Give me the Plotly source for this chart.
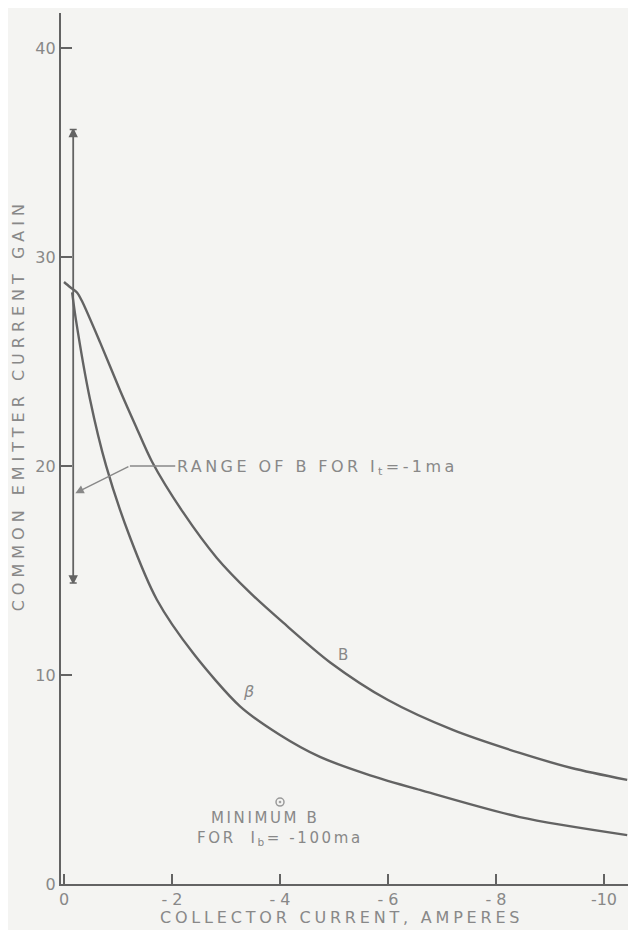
import plotly.graph_objects as go

# collector current (A) vs common emitter current gain
b_current = [0, -0.11, -0.24, -0.33, -0.67, -1.04, -1.33, -1.63, -2.2, -2.83, -3.44,
             -4.06, -4.93, -6.0, -7.2, -8.44, -9.4, -10.43]
b_gain = [28.8, 28.56, 28.3, 27.9, 25.9, 23.6, 21.9, 20.2, 17.8, 15.6, 13.95,
          12.5, 10.6, 8.8, 7.37, 6.27, 5.55, 4.98]

beta_current = [-0.15, -0.22, -0.48, -0.78, -1.22, -1.72, -2.39, -3.26, -4.0,
                -4.74, -5.67, -6.59, -8.44, -10.43]
beta_gain = [28.3, 27.0, 23.2, 20.0, 16.6, 13.6, 11.05, 8.5, 7.13,
             6.08, 5.2, 4.5, 3.2, 2.34]

# range of B for I_t = -1 ma
range_current = [-0.17, -0.17]
range_gain = [36.1, 14.4]

# minimum B for I_b = -100 ma
min_current = [-4.0]
min_gain = [3.92]

x_ticks = [0, -2, -4, -6, -8, -10]
x_tick_text = ["0", "- 2", "- 4", "- 6", "- 8", "-10"]
y_ticks = [0, 10, 20, 30, 40]
y_tick_text = ["0", "10", "20", "30", "40"]

# leader line from the range label to the range bar
leader_x = [-2.06, -1.22]
leader_y = [20.0, 20.0]
leader_tip = (-0.21, 18.7)

INK = "#636363"
TEXT = "#888888"
BG = "#f4f4f2"
FONT = "DejaVu Sans"


def spaced(text, px):
    return f'<span style="letter-spacing:{px}px">{text}</span>'


fig = go.Figure()
fig.add_trace(go.Scatter(x=b_current, y=b_gain, mode="lines",
                         line={"color": INK, "width": 2.4, "shape": "spline", "smoothing": 0.8}))
fig.add_trace(go.Scatter(x=beta_current, y=beta_gain, mode="lines",
                         line={"color": INK, "width": 2.4, "shape": "spline", "smoothing": 0.8}))
fig.add_trace(go.Scatter(x=range_current, y=range_gain, mode="lines+markers",
                         line={"color": INK, "width": 1.8},
                         marker={"symbol": ["arrow-bar-up", "arrow-bar-down"], "size": 7,
                                 "color": INK, "line": {"color": INK, "width": 1.5}}))
fig.add_trace(go.Scatter(x=leader_x, y=leader_y, mode="lines",
                         line={"color": TEXT, "width": 1.6}))
fig.add_trace(go.Scatter(x=min_current, y=min_gain, mode="markers",
                         marker={"symbol": "circle-dot", "size": 8, "color": "rgba(0,0,0,0)",
                                 "line": {"color": "#9a9a9a", "width": 1.5}}))

fig.add_annotation(x=leader_tip[0], y=leader_tip[1], ax=leader_x[1], ay=leader_y[1],
                   axref="x", ayref="y", text="", showarrow=True, arrowhead=2,
                   arrowsize=1.2, arrowwidth=1.4, arrowcolor=TEXT)

annotations = [
    (leader_x[0], 19.95, "left", spaced("RANGE OF B FOR I<sub>t</sub>=-1ma", 3.4), 16),
    (-5.17, 10.95, "center", "B", 15),
    (-3.41, 9.19, "center", "<i>β</i>", 16),
    (-3.72, 3.17, "center", spaced("MINIMUM B", 2.6), 15),
    (-4.0, 2.2, "center", spaced("FOR  I<sub>b</sub>= -100ma", 2.6), 15),
]
for x, y, anchor, text, size in annotations:
    fig.add_annotation(x=x, y=y, text=text, showarrow=False, xanchor=anchor,
                       yanchor="middle", font={"family": FONT, "size": size, "color": TEXT})

# axis titles placed by hand so the plot area keeps its scanned position
fig.add_annotation(x=-5.13, y=0, yref="paper", yshift=-33, yanchor="middle",
                   text=spaced("COLLECTOR CURRENT, AMPERES", 3.8), showarrow=False,
                   font={"family": FONT, "size": 16, "color": TEXT})
fig.add_annotation(x=0, xref="paper", xshift=-43, xanchor="center", y=22.9,
                   text=spaced("COMMON EMITTER CURRENT GAIN", 5), textangle=-90,
                   showarrow=False, font={"family": FONT, "size": 16, "color": TEXT})

# the page body adds an 8px margin, so the figure is 8px smaller each way
fig.update_layout(
    width=628,
    height=922,
    margin={"l": 53, "r": 0, "t": 5, "b": 46},
    paper_bgcolor=BG,
    plot_bgcolor=BG,
    showlegend=False,
    font={"family": FONT, "color": TEXT},
)
fig.update_xaxes(
    range=[0.056, -10.593], automargin=False,
    tickvals=x_ticks, ticktext=x_tick_text,
    ticks="inside", ticklen=10, tickwidth=1.6, tickcolor=INK,
    showline=True, linecolor=INK, linewidth=2.4,
    showgrid=False, zeroline=False,
    tickfont={"family": FONT, "size": 16, "color": TEXT},
)
fig.update_yaxes(
    range=[0, 41.67], automargin=False,
    tickvals=y_ticks, ticktext=y_tick_text,
    ticks="inside", ticklen=11, tickwidth=1.6, tickcolor=INK,
    showline=True, linecolor=INK, linewidth=2.4,
    showgrid=False, zeroline=False,
    tickfont={"family": FONT, "size": 16, "color": TEXT},
)

fig.write_html("out.html")
